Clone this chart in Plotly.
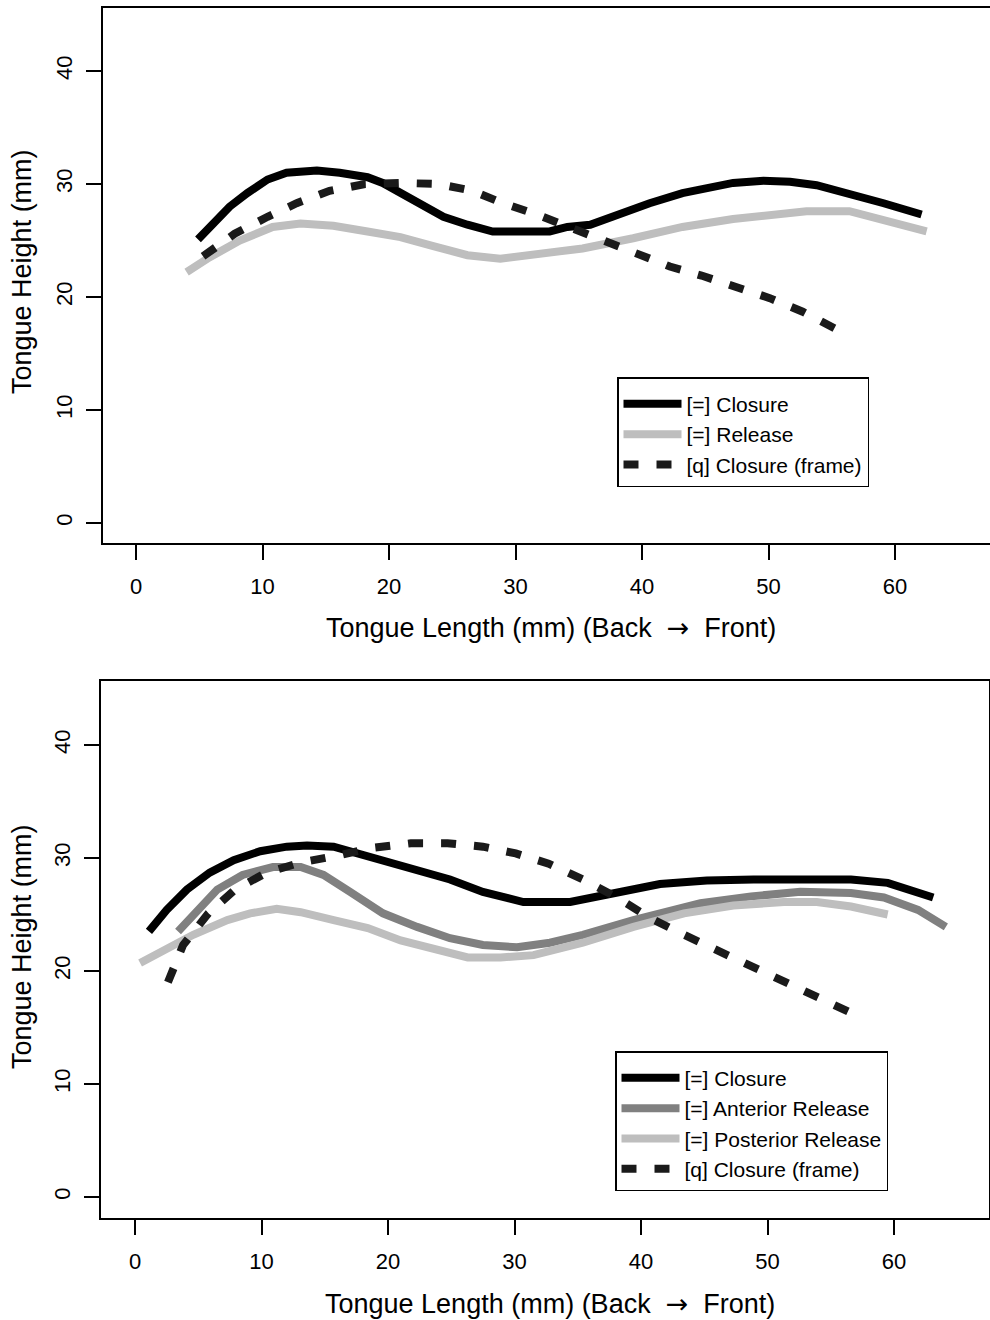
import plotly.graph_objects as go

# ---------------- data: top panel ----------------
top_closure_x = [4.9, 6.1, 7.4, 8.8, 10.4, 11.9, 14.3, 16.1, 18.3, 19.5, 20.9, 22.5, 24.3, 26.2, 28.2,
                 32.7, 34.1, 35.9, 38.0, 40.6, 43.2, 47.2, 49.6, 51.7, 53.8, 56.4, 59.1, 62.1]
top_closure_y = [25.1, 26.5, 28.0, 29.2, 30.4, 31.0, 31.2, 31.0, 30.6, 30.1, 29.2, 28.1, 27.1, 26.4, 25.8,
                 25.8, 26.2, 26.4, 27.3, 28.3, 29.2, 30.1, 30.3, 30.2, 29.9, 29.2, 28.3, 27.3]

top_release_x = [4.0, 5.8, 8.2, 10.8, 13.0, 15.6, 18.3, 20.9, 23.5, 26.2, 28.8, 32.7, 35.3, 39.3, 43.2,
                 47.2, 51.1, 53.0, 56.4, 59.1, 62.5]
top_release_y = [22.2, 23.5, 25.0, 26.2, 26.5, 26.3, 25.8, 25.3, 24.5, 23.7, 23.4, 23.9, 24.3, 25.2, 26.2,
                 26.9, 27.4, 27.6, 27.6, 26.8, 25.8]

top_frame_x = [5.3, 7.8, 10.4, 12.7, 15.3, 18.1, 21.0, 23.9, 26.6, 29.0, 31.7, 34.2, 36.9, 39.6, 42.2,
               44.7, 47.5, 50.1, 52.7, 55.8]
top_frame_y = [23.6, 25.6, 27.1, 28.3, 29.4, 30.0, 30.1, 30.0, 29.4, 28.3, 27.3, 26.2, 25.1, 23.9, 22.7,
               21.9, 20.9, 19.9, 18.7, 16.9]

# ---------------- data: bottom panel ----------------
bot_closure_x = [1.1, 2.5, 4.1, 5.9, 7.8, 9.9, 12.0, 13.6, 15.7, 17.8, 19.9, 22.3, 24.9, 27.5, 30.7,
                 34.4, 38.1, 41.5, 45.2, 48.9, 56.6, 59.5, 63.1]
bot_closure_y = [23.5, 25.4, 27.2, 28.7, 29.8, 30.6, 31.0, 31.1, 31.0, 30.3, 29.6, 28.9, 28.1, 27.0, 26.1,
                 26.1, 26.9, 27.7, 28.0, 28.1, 28.1, 27.8, 26.5]

bot_ant_x = [3.4, 4.9, 6.5, 8.5, 10.9, 13.1, 14.9, 17.0, 19.6, 22.3, 24.9, 27.5, 30.2, 32.8, 35.4,
             39.4, 44.7, 48.7, 52.6, 56.6, 59.2, 61.9, 64.1]
bot_ant_y = [23.5, 25.4, 27.2, 28.5, 29.2, 29.2, 28.5, 27.0, 25.1, 23.9, 22.9, 22.3, 22.1, 22.5, 23.2,
             24.5, 26.0, 26.6, 27.0, 26.9, 26.5, 25.4, 23.9]

bot_post_x = [0.4, 2.5, 4.6, 7.3, 9.1, 11.2, 13.1, 15.7, 18.4, 21.0, 23.6, 26.3, 28.9, 31.5, 35.4,
              39.4, 43.4, 47.3, 51.3, 53.9, 56.6, 59.5]
bot_post_y = [20.7, 22.0, 23.2, 24.5, 25.1, 25.5, 25.2, 24.5, 23.8, 22.7, 21.9, 21.2, 21.2, 21.4, 22.5,
              23.9, 25.1, 25.8, 26.1, 26.1, 25.7, 25.0]

bot_frame_x = [2.6, 3.8, 5.8, 7.9, 10.4, 13.1, 16.0, 18.8, 21.8, 24.7, 27.5, 30.1, 32.7, 35.4, 38.1,
               40.7, 43.4, 45.9, 48.5, 51.0, 53.6, 56.6]
bot_frame_y = [19.0, 22.3, 25.1, 27.2, 28.7, 29.6, 30.2, 30.9, 31.3, 31.3, 31.0, 30.4, 29.5, 28.1, 26.5,
               24.7, 23.2, 21.9, 20.6, 19.4, 17.9, 16.3]

x_ticks = [0, 10, 20, 30, 40, 50, 60]
y_ticks = [0, 10, 20, 30, 40]

# labels
x_title = ("Tongue Length (mm) (Back\u00a0 <span style='font-family:DejaVu Sans'>\u2192</span>\u00a0 Front)")
y_title = "Tongue Height (mm)"
top_names = ["[=] Closure", "[=] Release", "[q] Closure (frame)"]
bot_names = ["[=] Closure", "[=] Anterior Release", "[=] Posterior Release", "[q] Closure (frame)"]

BLACK = "#000000"
LIGHT = "#bebebe"
MID = "#808080"
DASHC = "#1a1a1a"
LW = 8
DASH = "15px,18px"
FONT = "Liberation Sans, Arial, Helvetica, sans-serif"
TICK_SIZE = 22
TITLE_SIZE = 27
LEG_SIZE = 21

fig = go.Figure()

# top traces
fig.add_trace(go.Scatter(x=top_closure_x, y=top_closure_y, mode="lines", name=top_names[0],
                         line=dict(color=BLACK, width=LW), xaxis="x", yaxis="y", legend="legend"))
fig.add_trace(go.Scatter(x=top_release_x, y=top_release_y, mode="lines", name=top_names[1],
                         line=dict(color=LIGHT, width=LW), xaxis="x", yaxis="y", legend="legend"))
fig.add_trace(go.Scatter(x=top_frame_x, y=top_frame_y, mode="lines", name=top_names[2],
                         line=dict(color=DASHC, width=LW, dash=DASH), xaxis="x", yaxis="y", legend="legend"))

# bottom traces
fig.add_trace(go.Scatter(x=bot_closure_x, y=bot_closure_y, mode="lines", name=bot_names[0],
                         line=dict(color=BLACK, width=LW), xaxis="x2", yaxis="y2", legend="legend2"))
fig.add_trace(go.Scatter(x=bot_ant_x, y=bot_ant_y, mode="lines", name=bot_names[1],
                         line=dict(color=MID, width=LW), xaxis="x2", yaxis="y2", legend="legend2"))
fig.add_trace(go.Scatter(x=bot_post_x, y=bot_post_y, mode="lines", name=bot_names[2],
                         line=dict(color=LIGHT, width=LW), xaxis="x2", yaxis="y2", legend="legend2"))
fig.add_trace(go.Scatter(x=bot_frame_x, y=bot_frame_y, mode="lines", name=bot_names[3],
                         line=dict(color=DASHC, width=LW, dash=DASH), xaxis="x2", yaxis="y2", legend="legend2"))

W, H = 990, 1320

def xaxis(domain, rng, anchor, mirror):
    return dict(domain=domain, range=rng, anchor=anchor, showline=True, linecolor="black", linewidth=2,
                mirror=mirror, ticks="outside", ticklen=15, tickwidth=1.5, tickcolor="black",
                tickvals=x_ticks, ticktext=[str(v) for v in x_ticks], showgrid=False, zeroline=False,
                tickfont=dict(family=FONT, size=TICK_SIZE, color="black"), ticklabelstandoff=8)

def yaxis(domain, rng, anchor, mirror):
    return dict(domain=domain, range=rng, anchor=anchor, showline=True, linecolor="black", linewidth=2,
                mirror=mirror, ticks="outside", ticklen=15, tickwidth=1.5, tickcolor="black",
                tickvals=y_ticks, ticktext=[str(v) for v in y_ticks], showgrid=False, zeroline=False,
                tickangle=-90, tickfont=dict(family=FONT, size=TICK_SIZE, color="black"),
                ticklabelstandoff=5)

def legend(x, y, ew):
    return dict(x=x, y=y, xanchor="left", yanchor="top", bgcolor="white",
                bordercolor="black", borderwidth=1.5,
                font=dict(family=FONT, size=LEG_SIZE, color="black"),
                itemwidth=58, tracegroupgap=0, entrywidth=ew, entrywidthmode="pixels",
                title=dict(text=" ", font=dict(size=4)))

fig.update_layout(
    width=W, height=H, margin=dict(l=0, r=0, t=0, b=0),
    paper_bgcolor="white", plot_bgcolor="white",
    font=dict(family=FONT, size=20, color="black"),
    xaxis=xaxis([103 / W, 1.0], [-2.61, 67.51], "y", True),
    yaxis=yaxis([1 - 543 / H, 1 - 8 / H], [-1.77, 45.58], "x", False),
    xaxis2=xaxis([101 / W, 989 / W], [-2.69, 67.51], "y2", True),
    yaxis2=yaxis([1 - 1218 / H, 1 - 681 / H], [-1.86, 45.66], "x2", True),
    legend=legend(617 / W, 1 - 377 / H, 220),
    legend2=legend(615 / W, 1 - 1051 / H, 245),
    showlegend=True,
    annotations=[
        dict(text=x_title, xref="paper", yref="paper", x=551 / W, y=1 - 627 / H, showarrow=False,
             xanchor="center", yanchor="middle", font=dict(family=FONT, size=TITLE_SIZE, color="black")),
        dict(text=y_title, xref="paper", yref="paper", x=22 / W, y=1 - 272 / H, showarrow=False,
             textangle=-90, xanchor="center", yanchor="middle",
             font=dict(family=FONT, size=TITLE_SIZE, color="black")),
        dict(text=x_title, xref="paper", yref="paper", x=550 / W, y=1 - 1303 / H, showarrow=False,
             xanchor="center", yanchor="middle", font=dict(family=FONT, size=TITLE_SIZE, color="black")),
        dict(text=y_title, xref="paper", yref="paper", x=22 / W, y=1 - 947 / H, showarrow=False,
             textangle=-90, xanchor="center", yanchor="middle",
             font=dict(family=FONT, size=TITLE_SIZE, color="black")),
    ],
)

fig.write_html("out.html", config={"displayModeBar": False},
               post_script="document.body.style.margin='0';")
